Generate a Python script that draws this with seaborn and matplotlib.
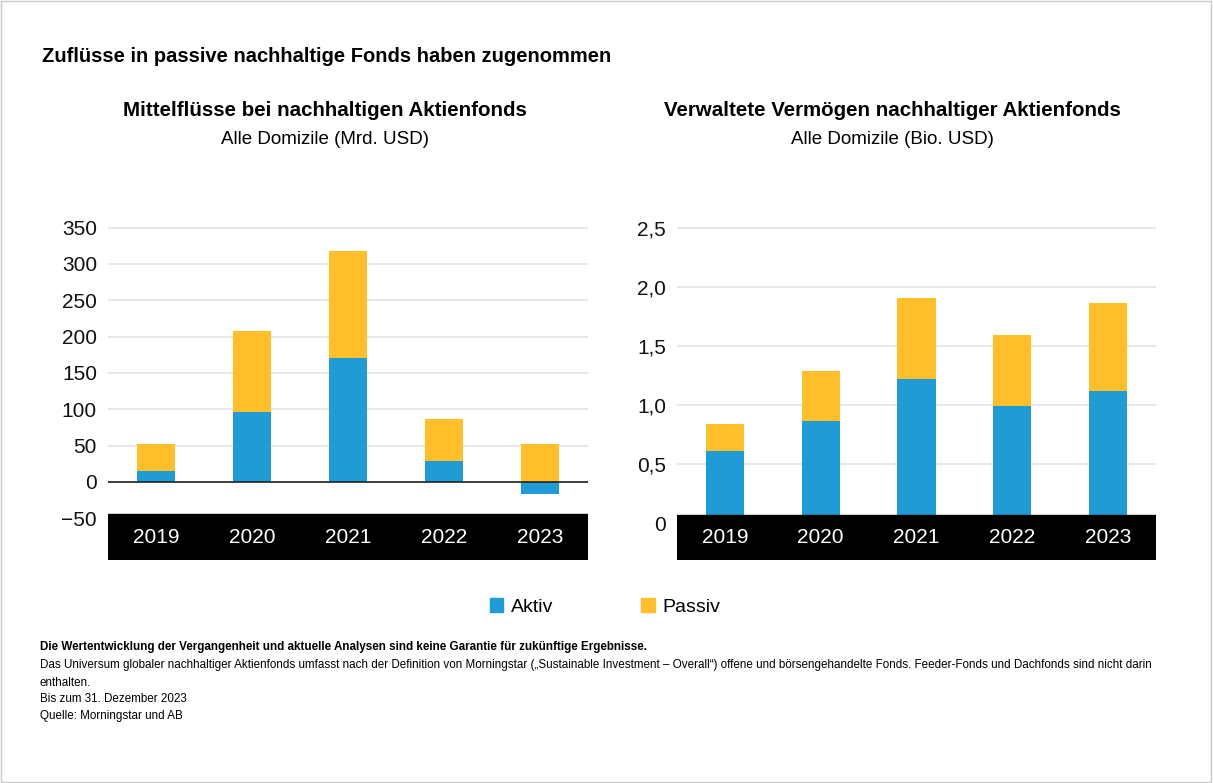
import matplotlib
matplotlib.use("Agg")
import matplotlib.pyplot as plt
from matplotlib.patches import Patch, Rectangle
import seaborn as sns

# Data
years = ["2019", "2020", "2021", "2022", "2023"]
flows_aktiv = [15, 96, 171, 29, -17]        # Mrd. USD
flows_passiv = [37, 112, 147, 57, 52]
assets_aktiv = [0.61, 0.87, 1.22, 0.99, 1.12]  # Bio. USD
assets_passiv = [0.23, 0.42, 0.69, 0.60, 0.74]

flow_ticks = [-50, 0, 50, 100, 150, 200, 250, 300, 350]
flow_ticklabels = ["\u221250", "0", "50", "100", "150", "200", "250", "300", "350"]
asset_ticks = [0, 0.5, 1.0, 1.5, 2.0, 2.5]
asset_ticklabels = ["0", "0,5", "1,0", "1,5", "2,0", "2,5"]

blue = "#209BD6"
yellow = "#FFBF2A"
grid_col = "#e3e3e3"

sns.set_theme(style="white")
plt.rcParams["font.family"] = ["Liberation Sans", "DejaVu Sans"]
plt.rcParams["text.color"] = "black"

W, H = 1213, 783
fig = plt.figure(figsize=(W / 100, H / 100), dpi=100)


def fx(px):
    return px / W


def fy(px):
    return 1 - px / H


def stacked(ax, aktiv, passiv, ticks, ticklabels, ylim, band_top, zero_line):
    # passiv sits on top of the positive part of aktiv
    top = [max(a, 0) + p for a, p in zip(aktiv, passiv)]
    sns.barplot(x=years, y=top, color=yellow, saturation=1, width=0.4,
                linewidth=0, ax=ax, zorder=2)
    sns.barplot(x=years, y=aktiv, color=blue, saturation=1, width=0.4,
                linewidth=0, ax=ax, zorder=3)
    ax.set_ylim(*ylim)
    ax.set_xlim(-0.5, 4.5)
    for t in ticks:
        ax.axhline(t, color=grid_col, lw=1.2, zorder=1)
    if zero_line:
        ax.axhline(0, color="#222222", lw=1.2, zorder=4)
    # black band holding the year labels
    ax.axhspan(ylim[0], band_top, color="black", zorder=5)
    ax.set_yticks(ticks, labels=ticklabels)
    ax.tick_params(axis="y", length=0, pad=8, labelsize=15, colors="#111111")
    ax.tick_params(axis="x", length=0, pad=-23, labelsize=15, colors="white")
    ax.xaxis.set_zorder(10)
    ax.set_xlabel("")
    ax.set_ylabel("")
    sns.despine(ax=ax, left=True, bottom=True)


# Left: Mittelflüsse
ax1 = fig.add_axes([fx(108), fy(560), fx(480), (560 - 227) / H])
stacked(ax1, flows_aktiv, flows_passiv, flow_ticks, flow_ticklabels,
        (-107.5, 350.8), -44.5, True)

# Right: verwaltete Vermögen
ax2 = fig.add_axes([fx(677), fy(560), fx(479), (560 - 227) / H])
stacked(ax2, assets_aktiv, assets_passiv, asset_ticks, asset_ticklabels,
        (-0.307, 2.506), 0.076, False)

# Titles
fig.text(fx(42), fy(57), "Zuflüsse in passive nachhaltige Fonds haben zugenommen",
         fontsize=14.5, fontweight="bold", va="center", ha="left")
fig.text(fx(325), fy(110), "Mittelflüsse bei nachhaltigen Aktienfonds",
         fontsize=14.8, fontweight="bold", va="center", ha="center")
fig.text(fx(325), fy(139), "Alle Domizile (Mrd. USD)",
         fontsize=13.5, va="center", ha="center")
fig.text(fx(892), fy(110), "Verwaltete Vermögen nachhaltiger Aktienfonds",
         fontsize=14.8, fontweight="bold", va="center", ha="center")
fig.text(fx(892), fy(139), "Alle Domizile (Bio. USD)",
         fontsize=13.5, va="center", ha="center")

# Legend
handles = [Patch(color=blue, label="Aktiv"), Patch(color=yellow, label="Passiv")]
fig.legend(handles=handles, loc="center", bbox_to_anchor=(fx(605), fy(607)),
           ncol=2, frameon=False, fontsize=14, handlelength=0.7, handleheight=0.7,
           handletextpad=0.4, columnspacing=4.5)

# Footnotes
foot = ["Die Wertentwicklung der Vergangenheit und aktuelle Analysen sind keine Garantie für zukünftige Ergebnisse.",
        "Das Universum globaler nachhaltiger Aktienfonds umfasst nach der Definition von Morningstar (\u201eSustainable Investment \u2013 Overall\u201c) offene und börsengehandelte Fonds. Feeder-Fonds und Dachfonds sind nicht darin",
        "enthalten.",
        "Bis zum 31. Dezember 2023",
        "Quelle: Morningstar und AB"]
foot_y = [647, 665, 683, 699, 716]
for i, (line, y) in enumerate(zip(foot, foot_y)):
    fig.text(fx(40), fy(y), line, fontsize=8.4, va="center", ha="left",
             fontweight="bold" if i == 0 else "normal")

# thin frame around the figure
fig.patches.append(Rectangle((0.0005, 0.001), 0.998, 0.998, transform=fig.transFigure,
                             fill=False, edgecolor="#c8c8c8", lw=1))

fig.savefig("out.png", dpi=100)
